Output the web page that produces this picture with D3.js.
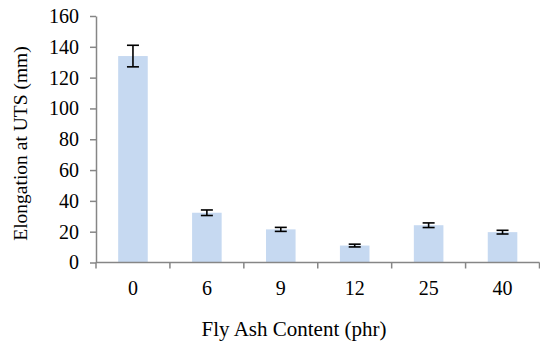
<!DOCTYPE html>
<html>
<head>
<meta charset="utf-8">
<script src="https://cdn.jsdelivr.net/npm/d3@7"></script>
<style>
  html, body { margin: 0; padding: 0; background: #fff; }
  svg { display: block; }
  text { font-family: "Liberation Serif", "Times New Roman", serif; fill: #000; }
</style>
</head>
<body>
<svg id="chart" width="540" height="343"></svg>
<script>
// Fly ash content levels (phr) and elongation at UTS (mm) with error margins
const categories = ["0", "6", "9", "12", "25", "40"];
const elongation = [134, 32.3, 21.5, 11, 24.2, 19.7];
const errorMargin = [7, 1.8, 1.3, 0.9, 1.5, 1.2];
const yTicks = [0, 20, 40, 60, 80, 100, 120, 140, 160];

const serif = "'Liberation Serif', 'Times New Roman', serif";
const svg = d3.select("#chart").attr("font-family", serif);
const margin = { left: 96, right: 0.5, top: 16, bottom: 80.5 };
const width = 540, height = 343;

const x = d3.scaleBand()
  .domain(categories)
  .range([margin.left, width - margin.right])
  .paddingInner(0.6)
  .paddingOuter(0.3);

const y = d3.scaleLinear()
  .domain([0, 160])
  .range([height - margin.bottom, margin.top]);

const axisColor = "#868686";

// Bars
svg.append("g")
  .selectAll("rect")
  .data(categories)
  .join("rect")
  .attr("x", d => x(d))
  .attr("width", x.bandwidth())
  .attr("y", (d, i) => y(elongation[i]))
  .attr("height", (d, i) => y(0) - y(elongation[i]))
  .attr("fill", "#C6D9F1");

// Error bars
const eb = svg.append("g").attr("stroke", "#000").attr("stroke-width", 1.6);
categories.forEach((c, i) => {
  const cx = x(c) + x.bandwidth() / 2;
  const hi = y(elongation[i] + errorMargin[i]);
  const lo = y(elongation[i] - errorMargin[i]);
  eb.append("line").attr("x1", cx).attr("x2", cx).attr("y1", hi).attr("y2", lo);
  eb.append("line").attr("x1", cx - 6).attr("x2", cx + 6).attr("y1", hi).attr("y2", hi);
  eb.append("line").attr("x1", cx - 6).attr("x2", cx + 6).attr("y1", lo).attr("y2", lo);
});

// Y axis
const yAxis = svg.append("g")
  .attr("transform", `translate(${margin.left},0)`)
  .call(d3.axisLeft(y).tickValues(yTicks).tickSize(6).tickPadding(11).tickSizeOuter(0));
yAxis.attr("font-family", serif).attr("font-size", 20);
yAxis.select(".domain").attr("stroke", axisColor).attr("stroke-width", 1.5);
yAxis.selectAll(".tick line").attr("stroke", axisColor).attr("stroke-width", 1.5);
yAxis.selectAll(".tick text")
  .attr("font-family", serif)
  .attr("font-size", 20)
  .attr("fill", "#000");

// X axis with boundary ticks between categories
const xAxisG = svg.append("g").attr("transform", `translate(0,${y(0)})`);
xAxisG.append("line")
  .attr("x1", margin.left).attr("x2", width - margin.right)
  .attr("y1", 0).attr("y2", 0)
  .attr("stroke", axisColor).attr("stroke-width", 1.5);
const boundaries = d3.range(categories.length + 1)
  .map(i => margin.left + i * (width - margin.right - margin.left) / categories.length);
xAxisG.selectAll("line.bt")
  .data(boundaries)
  .join("line")
  .attr("class", "bt")
  .attr("x1", d => d).attr("x2", d => d)
  .attr("y1", 0).attr("y2", 6)
  .attr("stroke", axisColor).attr("stroke-width", 1.5);
xAxisG.selectAll("text")
  .data(categories)
  .join("text")
  .attr("x", d => x(d) + x.bandwidth() / 2)
  .attr("y", 32.5)
  .attr("text-anchor", "middle")
  .attr("font-size", 20)
  .text(d => d);

// Axis titles
svg.append("text")
  .attr("x", 294)
  .attr("y", 336)
  .attr("text-anchor", "middle")
  .attr("font-size", 21)
  .text("Fly Ash Content (phr)");

svg.append("text")
  .attr("transform", `translate(27,143.5) rotate(-90)`)
  .attr("text-anchor", "middle")
  .attr("font-size", 19.5)
  .text("Elongation at UTS (mm)");
</script>
</body>
</html>
